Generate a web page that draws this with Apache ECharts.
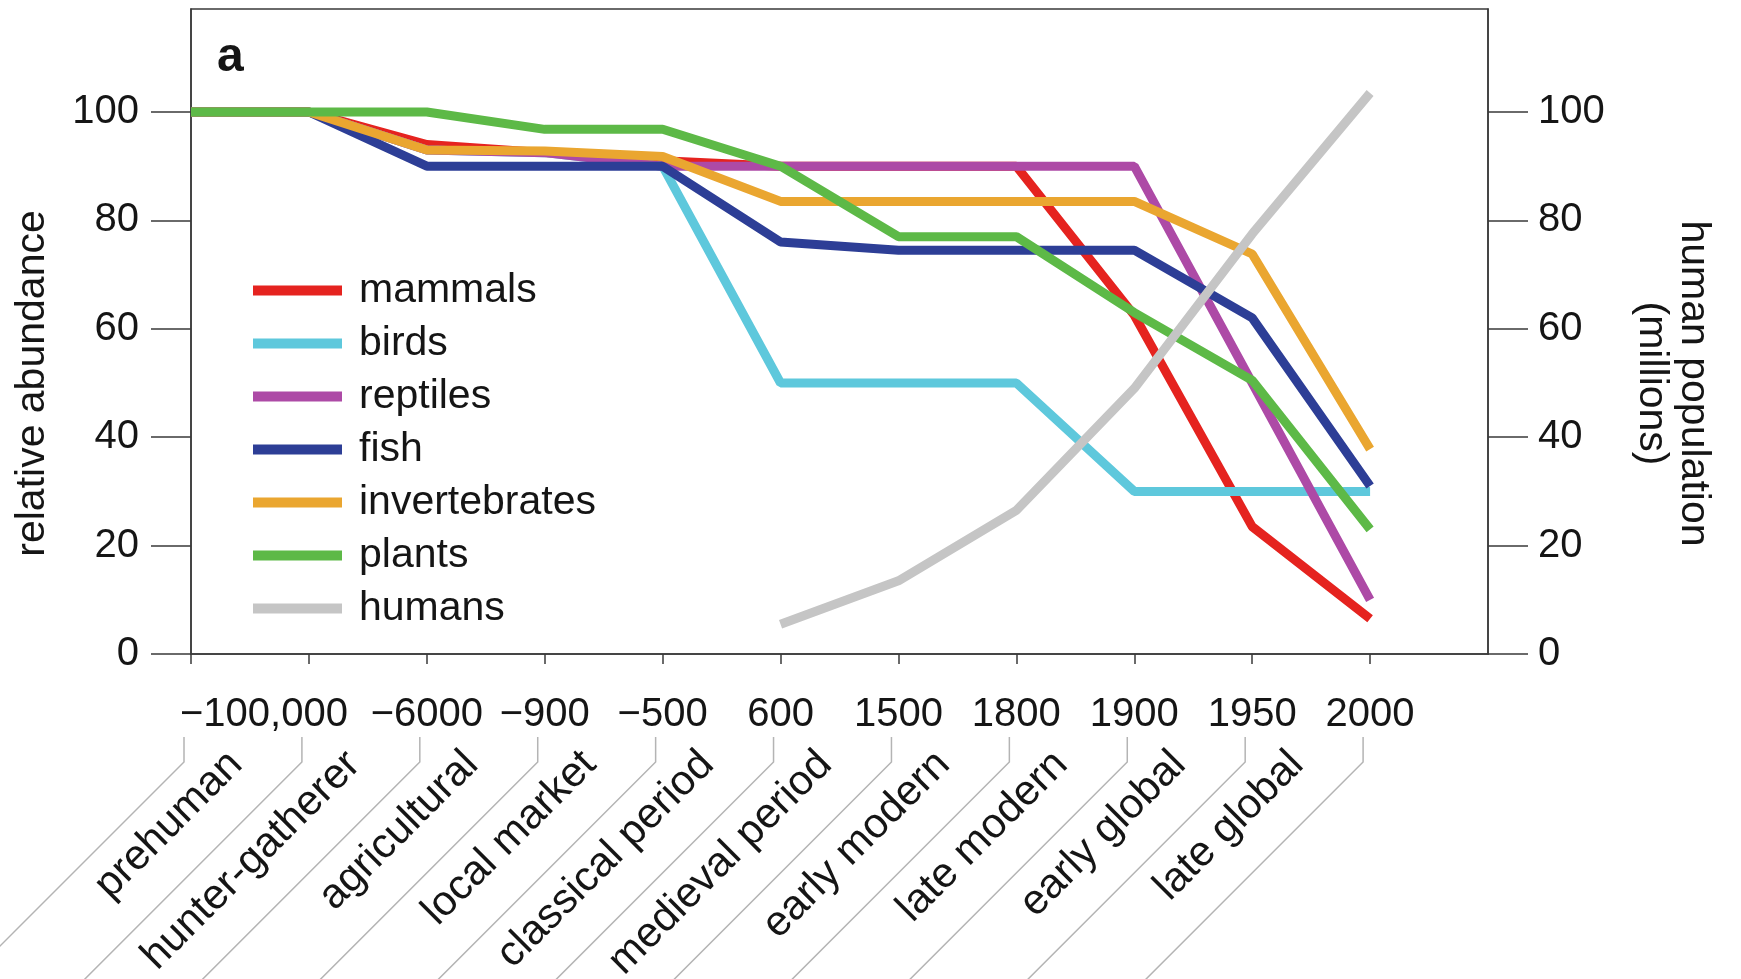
<!DOCTYPE html>
<html>
<head>
<meta charset="utf-8">
<script src="https://cdn.jsdelivr.net/npm/echarts@6/dist/echarts.min.js"></script>
<style>
  html, body { margin: 0; padding: 0; background: #fff; }
  #chart { width: 1741px; height: 979px; }
</style>
</head>
<body>
<div id="chart"></div>
<script>
// Time axis: one slot per period boundary, the last slot only closes the frame
const years = ['', '−100,000', '−6000', '−900', '−500', '600', '1500', '1800', '1900', '1950', '2000', ''];
// Period names sit between consecutive boundaries
const eras = ['prehuman', 'hunter-gatherer', 'agricultural', 'local market', 'classical period',
  'medieval period', 'early modern', 'late modern', 'early global', 'late global', ''];
const yTicks = [0, 20, 40, 60, 80, 100];

// Relative abundance (%) at each boundary
const mammals       = [100, 100, 94, 92.5, 91, 90, 90, 90, 62.5, 23.5, 6.5];
const birds         = [100, 100, 93, 92.5, 90, 50, 50, 50, 30, 30, 30];
const reptiles      = [100, 100, 93, 92.5, 90, 90, 90, 90, 90, 50, 10];
const fish          = [100, 100, 90, 90, 90, 76, 74.5, 74.5, 74.5, 62, 31];
const invertebrates = [100, 100, 93, 92.8, 91.8, 83.5, 83.5, 83.5, 83.5, 73.8, 37.8];
const plants        = [100, 100, 100, 96.8, 96.8, 90, 77, 77, 63, 50.5, 23];
// Human population (millions)
const humans        = [null, null, null, null, null, 5.5, 13.5, 26.5, 49, 77.5, 103.5];

// Boundaries that get a leader line down to the period labels
const leaderIdx = [0, 1, 2, 3, 4, 5, 6, 7, 8, 9, 10];

const FONT = "'Liberation Sans', Arial, Helvetica, sans-serif";
const INK = '#151515';
const FRAME = '#3a3a3a';

const groups = [
  { name: 'mammals', data: mammals, color: '#e5231f' },
  { name: 'birds', data: birds, color: '#5ec8dc' },
  { name: 'reptiles', data: reptiles, color: '#ad4aa6' },
  { name: 'fish', data: fish, color: '#2d3e96' },
  { name: 'invertebrates', data: invertebrates, color: '#eaa630' },
  { name: 'plants', data: plants, color: '#5db947' },
  { name: 'humans', data: humans, color: '#c5c5c5', yAxisIndex: 1 }
];

const lineSeries = groups.map(g => ({
  name: g.name,
  type: 'line',
  xAxisIndex: 0,
  yAxisIndex: g.yAxisIndex || 0,
  data: g.data,
  showSymbol: false,
  symbol: 'none',
  connectNulls: false,
  color: g.color,
  itemStyle: { color: g.color },
  lineStyle: { color: g.color, width: 9, join: 'bevel', cap: 'butt' },
  emphasis: { disabled: true },
  silent: true
}));

// Leader lines: short drop under each year, then a slanted run toward the bottom-left
const leaderSeries = {
  type: 'custom',
  name: 'leaders',
  xAxisIndex: 0,
  yAxisIndex: 0,
  clip: false,
  silent: true,
  data: leaderIdx.map(i => [i, 0]),
  renderItem: function (params, api) {
    const p = api.coord([api.value(0), 0]);
    const x = p[0] - 7;
    const y0 = p[1];
    return {
      type: 'polyline',
      shape: { points: [[x, y0 + 83], [x, y0 + 108], [x - 320, y0 + 108 + 320]] },
      style: { stroke: '#b4b4b4', lineWidth: 1.5, fill: null }
    };
  }
};

const chart = echarts.init(document.getElementById('chart'), null, { renderer: 'canvas' });

chart.setOption({
  animation: false,
  backgroundColor: '#ffffff',
  textStyle: { fontFamily: FONT },
  title: {
    text: 'a',
    left: 212,
    top: 29,
    textStyle: { fontFamily: FONT, fontSize: 48, fontWeight: 'bold', color: INK }
  },
  grid: {
    left: 191, right: 253, top: 9, bottom: 325,
    show: true, borderColor: FRAME, borderWidth: 1.5,
    containLabel: false,
    outerBoundsMode: 'none'
  },
  legend: {
    data: groups.map(g => g.name),
    orient: 'vertical',
    left: 253,
    top: 270,
    icon: 'rect',
    itemWidth: 89,
    itemHeight: 10,
    itemGap: 12,
    padding: 0,
    selectedMode: false,
    textStyle: { fontFamily: FONT, fontSize: 41, lineHeight: 40, color: INK, padding: [0, 0, 0, 12] }
  },
  xAxis: [
    {
      type: 'category',
      position: 'bottom',
      data: years,
      boundaryGap: false,
      axisLine: { show: true, lineStyle: { color: FRAME, width: 1.5 } },
      axisTick: { show: true, length: 10, interval: (idx) => idx <= 10, lineStyle: { color: FRAME, width: 1.5 } },
      axisLabel: {
        interval: 0,
        margin: 41,
        fontSize: 40,
        color: INK,
        fontFamily: FONT,
        formatter: (v, i) => (i === 1 ? '{w|' + v + '}' : v),
        rich: { w: { fontSize: 40, fontFamily: FONT, color: INK, padding: [0, 90, 0, 0] } }
      },
      splitLine: { show: false }
    },
    {
      type: 'category',
      position: 'bottom',
      data: eras,
      boundaryGap: true,
      axisLine: { show: false },
      axisTick: { show: false },
      axisLabel: {
        interval: 0,
        rotate: 45,
        margin: 90,
        fontSize: 42,
        color: INK,
        fontFamily: FONT,
        padding: [0, 20, 0, 0]
      },
      splitLine: { show: false }
    }
  ],
  yAxis: [
    {
      type: 'value',
      position: 'left',
      min: 0,
      max: 119,
      axisLine: { show: true, lineStyle: { color: FRAME, width: 1.5 } },
      axisTick: { show: true, length: 40, customValues: yTicks, lineStyle: { color: FRAME, width: 1.5 } },
      axisLabel: { customValues: yTicks, margin: 52, fontSize: 40, color: INK, fontFamily: FONT },
      splitLine: { show: false },
      name: 'relative abundance',
      nameLocation: 'middle',
      nameRotate: 90,
      nameGap: 138,
      nameTextStyle: { fontSize: 41, color: INK, fontFamily: FONT, padding: [0, 104, 0, 0] }
    },
    {
      type: 'value',
      position: 'right',
      min: 0,
      max: 119,
      axisLine: { show: true, lineStyle: { color: FRAME, width: 1.5 } },
      axisTick: { show: true, length: 40, customValues: yTicks, lineStyle: { color: FRAME, width: 1.5 } },
      axisLabel: { customValues: yTicks, margin: 50, fontSize: 40, color: INK, fontFamily: FONT },
      splitLine: { show: false },
      name: 'human population\n(millions)',
      nameLocation: 'middle',
      nameRotate: -90,
      nameGap: 142,
      nameTextStyle: { fontSize: 41, lineHeight: 42, color: INK, fontFamily: FONT, padding: [0, 0, 0, 104] }
    }
  ],
  series: [leaderSeries].concat(lineSeries)
});
</script>
</body>
</html>
